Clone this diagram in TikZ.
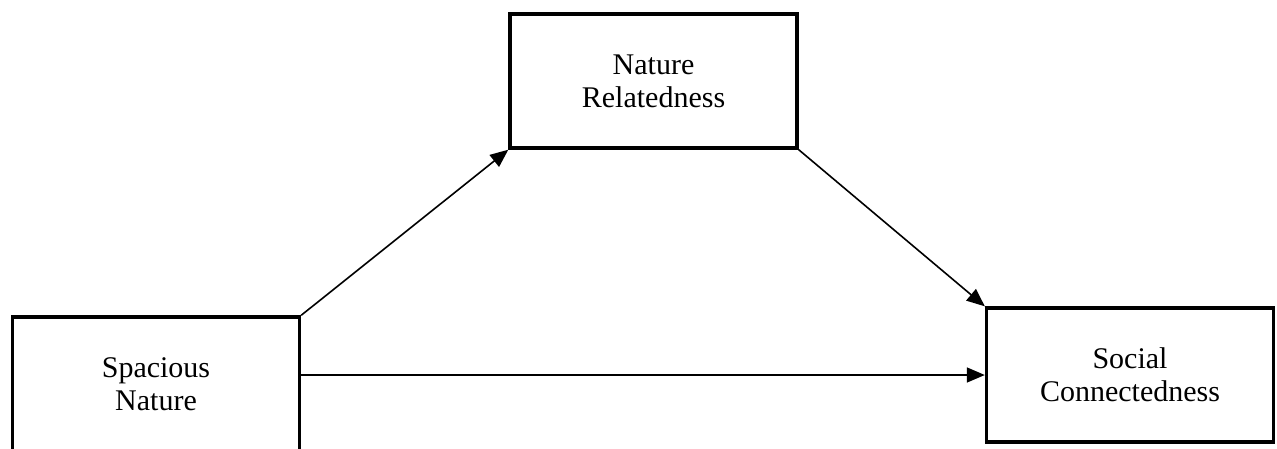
\documentclass[tikz,border=0pt]{standalone}
\usepackage{fontspec}
\setmainfont{Liberation Serif}
\usepackage{tikz}
\usetikzlibrary{arrows.meta}
\tikzstyle{varbox}=[draw,line width=3.4pt,minimum width=287pt,minimum height=134pt,align=center,font=\fontsize{30}{33}\selectfont]
\tikzstyle{path}=[line width=1.6pt,-{Triangle[length=18pt,width=15pt]}]

\begin{document}
\begin{tikzpicture}[x=1pt,y=-1pt]
    \useasboundingbox (0,0) rectangle (1277,448);
    \node[varbox] (nr) at (653.5,81)  {Nature\\Relatedness};
    \node[varbox] (sn) at (156,384)   {Spacious\\Nature};
    \node[varbox] (sc) at (1130,375)  {Social\\Connectedness};
%    indirect path
    \draw[path] (sn.north east) -- (nr.south west);
    \draw[path] (nr.south east) -- (sc.north west);
%    direct path
    \draw[path] (sn.east |- sc.west) -- (sc.west);
\end{tikzpicture}
\end{document}
